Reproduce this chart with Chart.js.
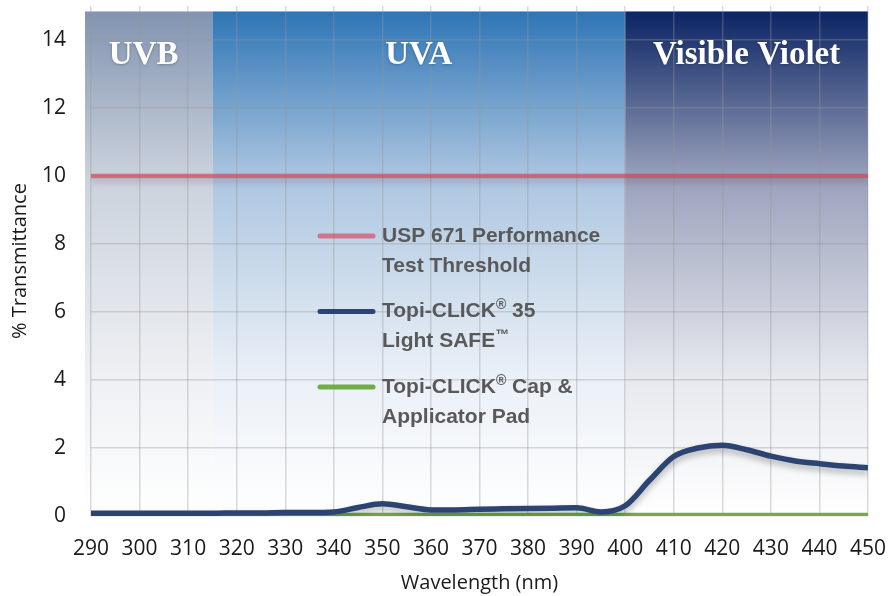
<!DOCTYPE html>
<html>
<head>
<meta charset="utf-8">
<script src="https://cdn.jsdelivr.net/npm/chart.js@4"></script>
<style>
  html, body { margin: 0; padding: 0; background: #fff; }
  #wrap { width: 888px; height: 596px; }
</style>
</head>
<body>
<div id="wrap"><canvas id="uvChart"></canvas></div>
<script>
// wavelength (nm) and % transmittance
const wavelengths = [290, 295, 300, 305, 310, 315, 320, 325, 330, 335, 340, 345, 350, 355, 360, 365,
  370, 375, 380, 385, 390, 395, 400, 405, 410, 415, 420, 425, 430, 435, 440, 445, 450];
const lightSafe = [0.08, 0.08, 0.08, 0.08, 0.08, 0.08, 0.09, 0.09, 0.1, 0.1, 0.12, 0.25, 0.36, 0.27, 0.18, 0.18,
  0.2, 0.21, 0.22, 0.23, 0.24, 0.12, 0.3, 1.05, 1.75, 2.0, 2.08, 1.95, 1.76, 1.62, 1.54, 1.47, 1.42];
const thresholdX = [290, 450];
const thresholdY = [10, 10];
const capX = [290, 450];
const capY = [0.03, 0.03];

const xTicks = [290, 300, 310, 320, 330, 340, 350, 360, 370, 380, 390, 400, 410, 420, 430, 440, 450];
const yTicks = [0, 2, 4, 6, 8, 10, 12, 14];

const bandNames = ['UVB', 'UVA', 'Visible Violet'];
const bandStarts = [290, 315, 400];
const bandEnds = [315, 400, 450];

const legendLines = [
  ['USP 671 Performance', 'Test Threshold'],
  ['Topi-CLICK® 35', 'Light SAFE™'],
  ['Topi-CLICK® Cap &', 'Applicator Pad']
];

const RED = 'rgba(214, 62, 84, 0.62)';
const NAVY = '#2b4472';
const GREEN = '#70ad47';
const GRID = 'rgba(150,150,150,0.35)';
const bandColors = [
  ['#8294b0', '#cbd2dd', '#eef0f3'],
  ['#2e75b6', '#adc6e0', '#eaf0f7'],
  ['#0b2463', '#9aa1bb', '#e6e8ee']
];

// spectral region backgrounds + labels
const bandPlugin = {
  id: 'bands',
  beforeDraw(chart) {
    const { ctx, chartArea, scales: { x, y } } = chart;
    const top = y.getPixelForValue(14.84);
    const bottom = chartArea.bottom;
    bandStarts.forEach((start, i) => {
      const x0 = x.getPixelForValue(start) - (i === 0 ? 6 : 0);
      const x1 = x.getPixelForValue(bandEnds[i]);
      const g = ctx.createLinearGradient(0, top, 0, bottom);
      g.addColorStop(0, bandColors[i][0]);
      g.addColorStop(0.33, bandColors[i][1]);
      g.addColorStop(0.72, bandColors[i][2]);
      g.addColorStop(1, '#ffffff');
      ctx.fillStyle = g;
      ctx.fillRect(x0, top, x1 - x0, bottom - top);
    });
  },
  afterDraw(chart) {
    const { ctx, scales: { x } } = chart;
    ctx.save();
    ctx.font = 'bold 33px "Liberation Serif", "Times New Roman", serif';
    ctx.fillStyle = '#ffffff';
    ctx.textAlign = 'center';
    ctx.textBaseline = 'alphabetic';
    ctx.shadowColor = 'rgba(0,0,0,0.25)';
    ctx.shadowBlur = 3;
    ctx.shadowOffsetY = 1;
    bandNames.forEach((name, i) => {
      const cx = (x.getPixelForValue(bandStarts[i]) + x.getPixelForValue(bandEnds[i])) / 2;
      ctx.fillText(name, cx - (i === 0 ? 8 : 0), 64);
    });
    ctx.restore();
  }
};

// drop shadow under lines
const shadowPlugin = {
  id: 'lineShadow',
  beforeDatasetDraw(chart, args) {
    const ctx = chart.ctx;
    ctx.save();
    if (args.index !== 2) {
      ctx.shadowColor = 'rgba(0,0,0,0.28)';
      ctx.shadowBlur = 6;
      ctx.shadowOffsetY = 4;
    }
  },
  afterDatasetDraw(chart) {
    chart.ctx.restore();
  }
};

function drawRich(ctx, text, x, y, size) {
  // ® and ™ as small raised glyphs
  let cx = x;
  for (const part of text.split(/([®™])/)) {
    if (!part) continue;
    if (part === '®' || part === '™') {
      ctx.font = 'bold ' + Math.round(size * 0.65) + 'px "Liberation Sans", Arial, sans-serif';
      ctx.fillText(part, cx, y - size * 0.28);
    } else {
      ctx.font = 'bold ' + size + 'px "Liberation Sans", Arial, sans-serif';
      ctx.fillText(part, cx, y);
    }
    cx += ctx.measureText(part).width;
  }
}

const legendPlugin = {
  id: 'inlineLegend',
  afterDatasetsDraw(chart) {
    const { ctx } = chart;
    const colors = [RED, NAVY, GREEN];
    ctx.save();
    ctx.textBaseline = 'middle';
    ctx.textAlign = 'left';
    ctx.fillStyle = '#595959';
    legendLines.forEach((lines, i) => {
      const yy = 236 + i * 75.5;
      ctx.strokeStyle = colors[i];
      ctx.lineWidth = 5;
      ctx.lineCap = 'round';
      ctx.beginPath();
      ctx.moveTo(320, yy);
      ctx.lineTo(373, yy);
      ctx.stroke();
      lines.forEach((t, j) => drawRich(ctx, t, 382, yy + j * 30, 21));
    });
    ctx.restore();
  }
};

new Chart(document.getElementById('uvChart'), {
  type: 'line',
  data: {
    datasets: [
      {
        label: 'USP 671 Performance Test Threshold',
        data: thresholdX.map((v, i) => ({ x: v, y: thresholdY[i] })),
        borderColor: RED,
        borderWidth: 4.5,
        pointRadius: 0
      },
      {
        label: 'Topi-CLICK® 35 Light SAFE™',
        data: wavelengths.map((v, i) => ({ x: v, y: lightSafe[i] })),
        borderColor: NAVY,
        borderWidth: 5.5,
        pointRadius: 0,
        tension: 0.4,
        cubicInterpolationMode: 'monotone'
      },
      {
        label: 'Topi-CLICK® Cap & Applicator Pad',
        data: capX.map((v, i) => ({ x: v, y: capY[i] })),
        borderColor: GREEN,
        borderWidth: 4.5,
        pointRadius: 0
      }
    ]
  },
  options: {
    responsive: true,
    maintainAspectRatio: false,
    animation: false,
    layout: { padding: { top: 6, right: 20, left: 8, bottom: 1 } },
    plugins: {
      legend: { display: false },
      tooltip: { enabled: false }
    },
    scales: {
      x: {
        type: 'linear',
        min: 290,
        max: 450,
        afterBuildTicks: (s) => { s.ticks = xTicks.map(v => ({ value: v })); },
        afterFit: (s) => { s.height = 79; s.paddingLeft = 0; s.paddingRight = 0; },
        ticks: {
          color: '#1a1a1a',
          font: { family: '"Open Sans", sans-serif', size: 21 },
          padding: 20,
          maxRotation: 0,
          autoSkip: false
        },
        grid: { color: GRID, lineWidth: 1.5, drawTicks: false },
        border: { display: false },
        title: {
          display: true,
          text: 'Wavelength (nm)',
          color: '#1a1a1a',
          font: { family: '"Open Sans", sans-serif', size: 20 },
          padding: { top: 0, bottom: 0 }
        }
      },
      y: {
        min: 0,
        max: 15,
        afterBuildTicks: (s) => { s.ticks = yTicks.map(v => ({ value: v })); },
        afterFit: (s) => { s.width = 83; s.paddingTop = 0; s.paddingBottom = 0; },
        ticks: {
          color: '#1a1a1a',
          font: { family: '"Open Sans", sans-serif', size: 21 },
          padding: 25
        },
        grid: { color: GRID, lineWidth: 1.5, drawTicks: false },
        border: { display: false },
        title: {
          display: true,
          text: '% Transmittance',
          color: '#1a1a1a',
          font: { family: '"Open Sans", sans-serif', size: 20 },
          padding: { top: 0, bottom: 0 }
        }
      }
    }
  },
  plugins: [bandPlugin, shadowPlugin, legendPlugin]
});
</script>
</body>
</html>
